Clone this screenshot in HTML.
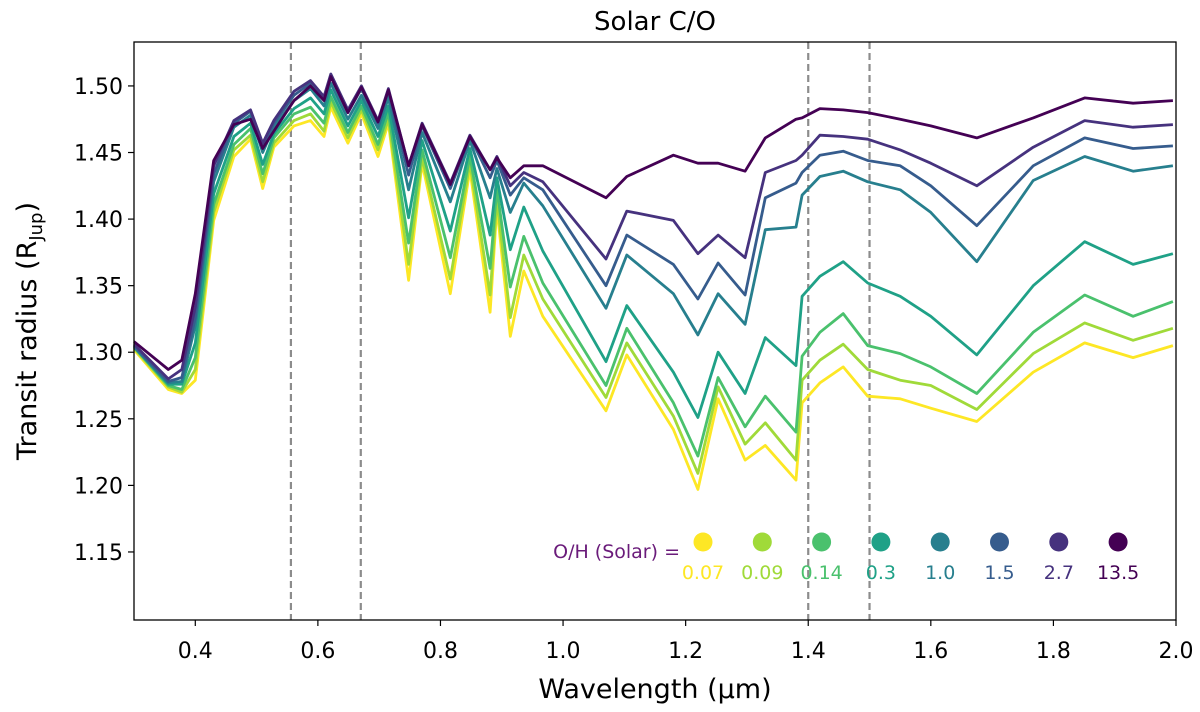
<!DOCTYPE html>
<html><head><meta charset="utf-8">
<style>
html,body{margin:0;padding:0;background:#fff;}
svg{display:block;font-family:"DejaVu Sans","Liberation Sans",sans-serif;}
</style></head>
<body>
<svg id="chart" width="1200" height="712" viewBox="0 0 1200 712">
<text x="655" y="30" text-anchor="middle" font-size="26" fill="#000">Solar C/O</text>
<g id="grid"></g>
<g id="series"></g>
<g id="axes"></g>
<g id="legend"></g>
<text x="655" y="698" text-anchor="middle" font-size="27">Wavelength (µm)</text>
<text transform="translate(36,331) rotate(-90)" text-anchor="middle" font-size="27">Transit radius (R<tspan font-size="18" dy="6">Jup</tspan><tspan dy="-6">)</tspan></text>
</svg>
<script>
const wavelengths=[0.30,0.356,0.378,0.40,0.43,0.463,0.49,0.51,0.528,0.561,0.588,0.61,0.621,0.649,0.671,0.698,0.715,0.748,0.77,0.816,0.848,0.881,0.892,0.914,0.936,0.967,1.07,1.104,1.18,1.22,1.253,1.297,1.33,1.38,1.39,1.419,1.457,1.497,1.55,1.6,1.675,1.767,1.851,1.93,1.995];
const oh007=[1.302,1.272,1.269,1.279,1.399,1.447,1.460,1.423,1.454,1.470,1.474,1.462,1.484,1.457,1.479,1.447,1.472,1.354,1.442,1.344,1.437,1.330,1.409,1.312,1.361,1.327,1.256,1.298,1.242,1.197,1.265,1.219,1.230,1.204,1.262,1.277,1.289,1.267,1.265,1.258,1.248,1.285,1.307,1.296,1.305];
const oh009=[1.303,1.274,1.270,1.287,1.405,1.452,1.463,1.428,1.457,1.474,1.479,1.466,1.488,1.461,1.482,1.452,1.475,1.366,1.446,1.355,1.442,1.343,1.415,1.326,1.373,1.340,1.266,1.307,1.252,1.209,1.274,1.231,1.247,1.219,1.279,1.294,1.306,1.287,1.279,1.275,1.257,1.299,1.322,1.309,1.318];
const oh014=[1.304,1.275,1.272,1.296,1.411,1.456,1.468,1.434,1.461,1.479,1.484,1.472,1.492,1.465,1.485,1.456,1.480,1.382,1.452,1.371,1.447,1.363,1.423,1.349,1.387,1.352,1.275,1.318,1.262,1.222,1.281,1.244,1.267,1.240,1.297,1.315,1.329,1.305,1.299,1.289,1.269,1.315,1.343,1.327,1.338];
const oh03=[1.304,1.276,1.276,1.307,1.419,1.462,1.472,1.441,1.464,1.483,1.491,1.479,1.497,1.470,1.489,1.462,1.485,1.401,1.459,1.391,1.453,1.388,1.431,1.377,1.409,1.376,1.293,1.335,1.285,1.251,1.300,1.269,1.311,1.290,1.342,1.357,1.368,1.352,1.342,1.327,1.298,1.350,1.383,1.366,1.374];
const oh10=[1.304,1.277,1.278,1.320,1.428,1.469,1.478,1.450,1.469,1.489,1.498,1.485,1.502,1.475,1.493,1.468,1.491,1.422,1.465,1.413,1.459,1.416,1.438,1.405,1.427,1.410,1.333,1.373,1.344,1.313,1.344,1.321,1.392,1.394,1.418,1.432,1.436,1.428,1.422,1.405,1.368,1.429,1.447,1.436,1.440];
const oh15=[1.305,1.278,1.281,1.326,1.434,1.472,1.481,1.454,1.472,1.493,1.502,1.490,1.507,1.480,1.498,1.472,1.496,1.433,1.470,1.423,1.462,1.431,1.444,1.418,1.431,1.422,1.350,1.388,1.366,1.340,1.367,1.343,1.416,1.427,1.435,1.448,1.451,1.444,1.440,1.425,1.395,1.440,1.461,1.453,1.455];
const oh27=[1.306,1.280,1.287,1.334,1.440,1.474,1.482,1.457,1.474,1.496,1.504,1.492,1.509,1.482,1.500,1.474,1.498,1.440,1.472,1.427,1.463,1.437,1.447,1.425,1.435,1.428,1.370,1.406,1.399,1.374,1.388,1.371,1.435,1.444,1.448,1.463,1.462,1.460,1.452,1.442,1.425,1.454,1.474,1.469,1.471];
const oh135=[1.308,1.287,1.294,1.344,1.444,1.471,1.475,1.453,1.466,1.489,1.500,1.489,1.507,1.480,1.499,1.473,1.497,1.440,1.471,1.426,1.462,1.437,1.446,1.431,1.440,1.440,1.416,1.432,1.448,1.442,1.442,1.436,1.461,1.475,1.476,1.483,1.482,1.480,1.475,1.470,1.461,1.476,1.491,1.487,1.489];
const seriesLabels=["0.07","0.09","0.14","0.3","1.0","1.5","2.7","13.5"];
const seriesValues=[oh007,oh009,oh014,oh03,oh10,oh15,oh27,oh135];
const seriesColors=["#fde725","#a0da39","#4ac16d","#1fa187","#277f8e","#365c8d","#46327e","#440154"];
const xTicks=[0.4,0.6,0.8,1.0,1.2,1.4,1.6,1.8,2.0];
const yTicks=[1.15,1.20,1.25,1.30,1.35,1.40,1.45,1.50];
const dashedLines=[0.556,0.67,1.4,1.5];

const NS="http://www.w3.org/2000/svg";
const L=134,R=1176,T=42,B=620;
const xmin=0.3,xmax=2.0,ymin=1.0989,ymax=1.533;
function xs(v){return L+(v-xmin)/(xmax-xmin)*(R-L);}
function ys(v){return B-(v-ymin)/(ymax-ymin)*(B-T);}
function mk(tag,attrs,parent){const e=document.createElementNS(NS,tag);for(const k in attrs)e.setAttribute(k,attrs[k]);parent.appendChild(e);return e;}

const grid=document.getElementById('grid');
dashedLines.forEach(d=>{
  const l=mk('line',{x1:xs(d),x2:xs(d),y1:T,y2:B,stroke:'#8c8c8c','stroke-width':2.2,'stroke-dasharray':'7,4'},grid);
  
  
});

const sg=document.getElementById('series');
seriesValues.forEach((vals,i)=>{
  const pts=wavelengths.map((w,j)=>xs(w).toFixed(1)+','+ys(vals[j]).toFixed(1)).join(' ');
  const p=mk('polyline',{points:pts,fill:'none',stroke:seriesColors[i],'stroke-width':2.8,'stroke-linejoin':'round'},sg);
  
  
});

const ax=document.getElementById('axes');
const frame=mk('rect',{x:L,y:T,width:R-L,height:B-T,fill:'none',stroke:'#000','stroke-width':1.3},ax);


xTicks.forEach(t=>{
  mk('line',{x1:xs(t),x2:xs(t),y1:B,y2:B+6,stroke:'#000','stroke-width':1.2},ax);
  const tx=mk('text',{x:xs(t),y:B+38,'text-anchor':'middle','font-size':22},ax);
  tx.textContent=t.toFixed(1);
  
  
});
yTicks.forEach(t=>{
  mk('line',{x1:L-6,x2:L,y1:ys(t),y2:ys(t),stroke:'#000','stroke-width':1.2},ax);
  const tx=mk('text',{x:L-11,y:ys(t)+8,'text-anchor':'end','font-size':22},ax);
  tx.textContent=t.toFixed(2);
  
  
});

const lg=document.getElementById('legend');
const lt=mk('text',{x:680,y:558,'text-anchor':'end','font-size':19,fill:'#6a1b7a'},lg);
lt.textContent='O/H (Solar) =';


seriesLabels.forEach((s,i)=>{
  const cx=703+i*59.3;
  const c=mk('circle',{cx:cx,cy:542,r:9.5,fill:seriesColors[i]},lg);
  
  
  const t=mk('text',{x:cx,y:579,'text-anchor':'middle','font-size':19,fill:seriesColors[i]},lg);
  t.textContent=s;
  
  
});
</script>
</body></html>
